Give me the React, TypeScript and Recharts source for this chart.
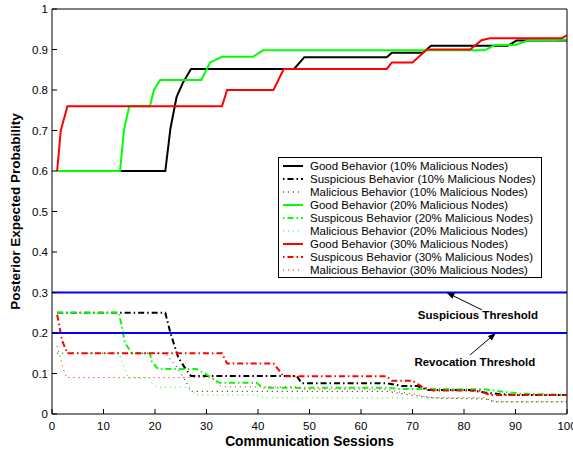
import React from 'react';
import { LineChart, Line, XAxis, YAxis, ReferenceLine, ReferenceDot } from 'recharts';

type Pt = [number, number];

const FONT = '"Liberation Sans", Arial, Helvetica, sans-serif';

const sessionTicks = [0, 10, 20, 30, 40, 50, 60, 70, 80, 90, 100];
const probTicks = [0, 0.1, 0.2, 0.3, 0.4, 0.5, 0.6, 0.7, 0.8, 0.9, 1];

// [session, posterior probability]
const good10: Pt[] = [
  [1, 0.6], [22, 0.6], [23, 0.705], [24.2, 0.783], [25.5, 0.82], [27, 0.852], [47, 0.852], [49, 0.881],
  [65, 0.881], [66, 0.892], [72, 0.892], [73.6, 0.909], [88.5, 0.909], [90.2, 0.922], [100, 0.922],
];
const sus10: Pt[] = [
  [1, 0.25], [22, 0.25], [23, 0.2], [24.5, 0.14], [26, 0.11], [27, 0.094], [47.5, 0.094], [48.5, 0.076],
  [65, 0.076], [68, 0.069], [71, 0.069], [73, 0.059], [81, 0.059], [84, 0.053], [87, 0.049], [90, 0.047], [100, 0.047],
];
const mal10: Pt[] = [
  [1, 0.15], [22, 0.15], [24, 0.12], [26, 0.08], [27, 0.056], [65, 0.056], [70, 0.046], [75, 0.039],
  [84, 0.037], [86, 0.03], [100, 0.03],
];
const good20: Pt[] = [
  [1, 0.6], [13.2, 0.6], [14, 0.703], [15, 0.76], [19, 0.76], [19.8, 0.8], [21, 0.825], [29, 0.825],
  [30.7, 0.868], [33, 0.882], [39, 0.882], [41, 0.898], [84, 0.898], [86, 0.911], [90, 0.911], [92.4, 0.922], [100, 0.924],
];
const sus20: Pt[] = [
  [1, 0.25], [13, 0.25], [14.2, 0.175], [15.5, 0.15], [19, 0.15], [19.4, 0.129], [20.6, 0.111], [28, 0.111],
  [29.7, 0.1], [32.5, 0.077], [39.7, 0.077], [41, 0.065], [65.5, 0.065], [67, 0.062], [84, 0.061],
  [87.6, 0.055], [91, 0.05], [100, 0.047],
];
const mal20: Pt[] = [
  [1, 0.15], [13, 0.15], [13.5, 0.133], [14.8, 0.089], [19, 0.089], [19.4, 0.076], [20.3, 0.066], [26, 0.066],
  [28, 0.047], [39.5, 0.047], [41, 0.04], [84, 0.039], [86, 0.031], [100, 0.031],
];
const good30: Pt[] = [
  [1, 0.6], [1.7, 0.7], [3, 0.76], [33, 0.76], [34, 0.8], [43, 0.8], [45, 0.852], [65, 0.852], [66, 0.868],
  [70, 0.868], [72.8, 0.9], [81.2, 0.9], [83.4, 0.923], [85, 0.928], [99, 0.928], [100, 0.935],
];
const sus30: Pt[] = [
  [1, 0.245], [2, 0.18], [3, 0.15], [33, 0.15], [34, 0.125], [43, 0.125], [45, 0.093], [65, 0.093],
  [66, 0.082], [70, 0.082], [72, 0.066], [74, 0.058], [83, 0.058], [85, 0.047], [100, 0.047],
];
const mal30: Pt[] = [
  [1, 0.168], [2, 0.12], [2.8, 0.09], [31, 0.09], [32, 0.076], [33, 0.067], [47.5, 0.067], [48.5, 0.061],
  [65, 0.061], [67, 0.055], [70, 0.05], [73, 0.04], [84, 0.04], [86, 0.03], [100, 0.03],
];

const suspiciousThreshold = 0.3;
const revocationThreshold = 0.2;

// annotation anchors in data units: [tail, head] and text centre
const suspArrow: Pt[] = [[83.5, 0.257], [76.6, 0.3]];
const revocArrow: Pt[] = [[81.2, 0.146], [86.2, 0.2]];
const suspText: Pt = [82.7, 0.244];
const revocText: Pt = [82.1, 0.128];

type Kind = 'solid' | 'dashdot' | 'dotted';

const styles: Record<Kind, { width: number; dash?: string; legendDash?: string }> = {
  solid: { width: 2 },
  dashdot: { width: 2, dash: '6 3 1.5 3', legendDash: '1.5 3 6 3' },
  dotted: { width: 1, dash: '1 4', legendDash: '1 4' },
};

const series: { name: string; data: Pt[]; color: string; kind: Kind }[] = [
  { name: 'Good Behavior (10% Malicious Nodes)', data: good10, color: '#000000', kind: 'solid' },
  { name: 'Suspicious Behavior (10% Malicious Nodes)', data: sus10, color: '#000000', kind: 'dashdot' },
  { name: 'Malicious Behavior (10% Malicious Nodes)', data: mal10, color: '#000000', kind: 'dotted' },
  { name: 'Good Behavior (20% Malicious Nodes)', data: good20, color: '#00ff00', kind: 'solid' },
  { name: 'Suspicous Behavior (20% Malicious Nodes)', data: sus20, color: '#00ff00', kind: 'dashdot' },
  { name: 'Malicious Behavior (20% Malicious Nodes)', data: mal20, color: '#00ff00', kind: 'dotted' },
  { name: 'Good Behavior (30% Malicious Nodes)', data: good30, color: '#ff0000', kind: 'solid' },
  { name: 'Suspicous Behavior (30% Malicious Nodes)', data: sus30, color: '#ff0000', kind: 'dashdot' },
  { name: 'Malicious Behavior (30% Malicious Nodes)', data: mal30, color: '#ff0000', kind: 'dotted' },
];

const toPts = (arr: Pt[]) => arr.map(([s, p]) => ({ s, p }));

const Arrow = (p: any) => {
  const { x1, y1, x2, y2 } = p;
  const a = Math.atan2(y2 - y1, x2 - x1);
  const len = 8;
  const half = 3;
  const bx = x2 - len * Math.cos(a);
  const by = y2 - len * Math.sin(a);
  const pts = `${x2},${y2} ${bx - half * Math.sin(a)},${by + half * Math.cos(a)} ${bx + half * Math.sin(a)},${by - half * Math.cos(a)}`;
  return (
    <g>
      <line x1={x1} y1={y1} x2={bx} y2={by} stroke="#000" strokeWidth={1} />
      <polygon points={pts} fill="#000" />
    </g>
  );
};

const note = (text: string) => (p: any) => (
  <text x={p.cx} y={p.cy} textAnchor="middle" dominantBaseline="central" fontSize={11.5} fontWeight="bold" fontFamily={FONT} fill="#000">
    {text}
  </text>
);

const XTitle = (p: any) => {
  const vb = p.viewBox || {};
  return (
    <text x={vb.x + vb.width / 2} y={vb.y + 32} textAnchor="middle" fontSize={13.8} fontWeight="bold" fontFamily={FONT} fill="#000">
      Communication Sessions
    </text>
  );
};

const YTitle = (p: any) => {
  const vb = p.viewBox || {};
  const cx = vb.x + 20;
  const cy = vb.y + vb.height / 2;
  return (
    <text x={cx} y={cy} transform={`rotate(-90 ${cx} ${cy})`} textAnchor="middle" fontSize={13.5} fontWeight="bold" fontFamily={FONT} fill="#000">
      Posterior Expected Probability
    </text>
  );
};

const LegendBox = () => (
  <div
    style={{
      position: 'absolute', left: 278, top: 157, width: 264, height: 121, boxSizing: 'border-box',
      border: '1px solid #000', background: '#fff', fontFamily: FONT, fontSize: 11.5, paddingTop: 1, color: '#000',
    }}
  >
    {series.map((s) => {
      const st = styles[s.kind];
      return (
        <div key={s.name} style={{ display: 'flex', alignItems: 'center', height: 13.1 }}>
          <svg width={20} height={8} style={{ marginLeft: 4, marginRight: 7, flex: 'none' }}>
            <line x1={0} y1={4} x2={20} y2={4} stroke={s.color} strokeWidth={st.width} strokeDasharray={st.legendDash} />
          </svg>
          <span style={{ whiteSpace: 'nowrap' }}>{s.name}</span>
        </div>
      );
    })}
  </div>
);

export default function App() {
  const tickStyle = { fill: '#000', fontSize: 11.5, fontFamily: FONT };
  return (
    <div style={{ position: 'absolute', left: 0, top: 0, width: 573, height: 453, background: '#fff' }}>
      <LineChart width={573} height={453} margin={{ top: 8, right: 5, left: 0, bottom: 0 }}>
        <XAxis
          type="number" dataKey="s" domain={[0, 100]} ticks={sessionTicks} interval={0} allowDataOverflow
          tickSize={-5} tickMargin={13} tick={tickStyle} stroke="#000" height={39} label={{ content: XTitle }}
        />
        <XAxis
          xAxisId="top" orientation="top" type="number" domain={[0, 100]} ticks={sessionTicks} interval={0}
          allowDataOverflow tick={false} tickSize={-5} height={1} stroke="#000"
        />
        <YAxis
          type="number" domain={[0, 1]} ticks={probTicks} interval={0} allowDataOverflow tickSize={-5} tickMargin={9}
          tick={tickStyle} tickFormatter={(v: number) => String(v)} stroke="#000" width={52} label={{ content: YTitle }}
        />
        <YAxis
          yAxisId="right" orientation="right" type="number" domain={[0, 1]} ticks={probTicks} interval={0}
          allowDataOverflow tick={false} tickSize={-5} width={1} stroke="#000"
        />
        {series.map((s) => (
          <Line
            key={s.name}
            data={toPts(s.data)}
            dataKey="p"
            name={s.name}
            type="linear"
            stroke={s.color}
            strokeWidth={styles[s.kind].width}
            strokeDasharray={styles[s.kind].dash}
            dot={false}
            activeDot={false}
            isAnimationActive={false}
          />
        ))}
        <ReferenceLine y={suspiciousThreshold} stroke="#0000ff" strokeWidth={2} />
        <ReferenceLine y={revocationThreshold} stroke="#0000ff" strokeWidth={2} />
        <ReferenceLine segment={suspArrow.map(([x, y]) => ({ x, y }))} shape={Arrow} />
        <ReferenceLine segment={revocArrow.map(([x, y]) => ({ x, y }))} shape={Arrow} />
        <ReferenceDot x={suspText[0]} y={suspText[1]} r={1} shape={note('Suspicious Threshold')} />
        <ReferenceDot x={revocText[0]} y={revocText[1]} r={1} shape={note('Revocation Threshold')} />
      </LineChart>
      <LegendBox />
    </div>
  );
}
